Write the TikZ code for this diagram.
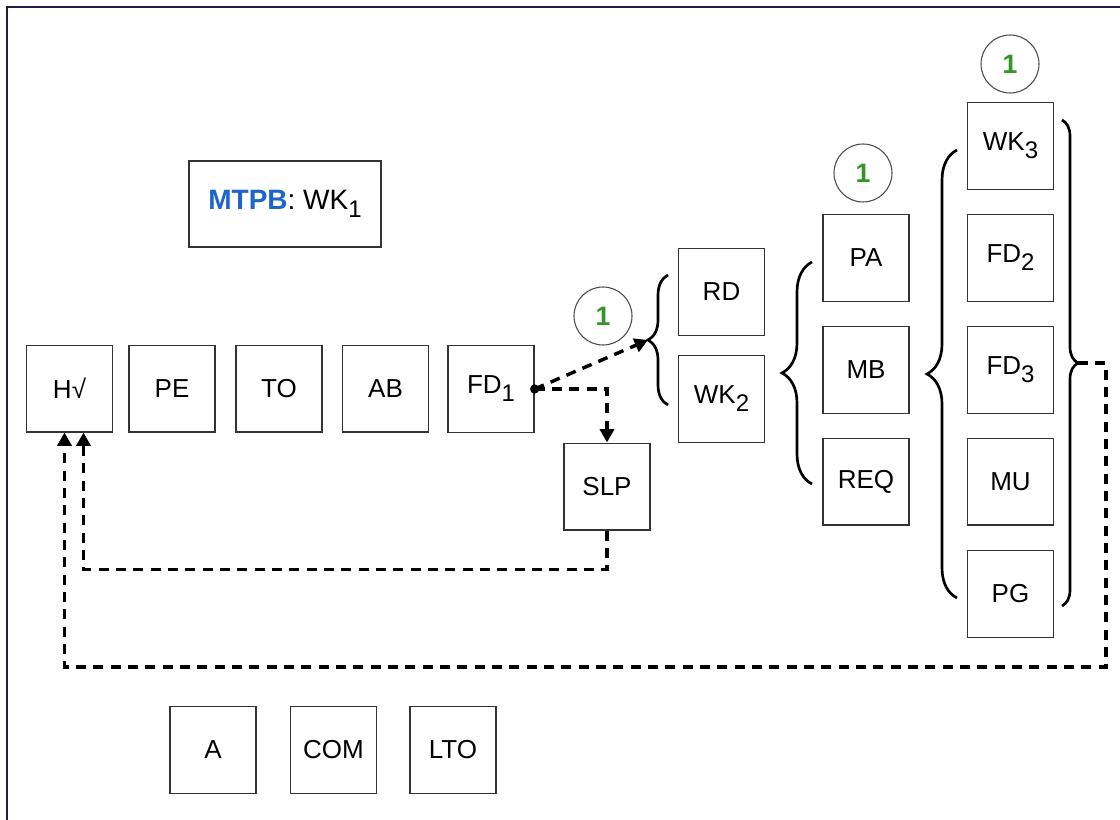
\documentclass[tikz,border=0pt]{standalone}
\usepackage{fontspec}
\setmainfont{Liberation Sans}
\usetikzlibrary{arrows.meta,decorations.pathreplacing,calc}
\definecolor{mtpbblue}{RGB}{30,100,205}
\definecolor{onegreen}{RGB}{50,150,40}
\definecolor{framecol}{RGB}{30,30,70}
\newcommand{\sbs}[1]{\raisebox{-6pt}{\fontsize{18}{18}\selectfont #1}}
\begin{document}
\begin{tikzpicture}[x=0.75pt,y=-0.75pt,
  box/.style={draw=black!80,line width=1pt,minimum width=64.5pt,minimum height=65pt,inner sep=0pt,font=\fontsize{19.5}{21}\selectfont},
  num/.style={circle,draw=black!70,line width=0.8pt,minimum size=43.5pt,inner sep=0pt,text=onegreen,font=\bfseries\fontsize{20}{20}\selectfont},
  dashline/.style={line width=2.6pt,dash pattern=on 7.5pt off 5.5pt},
  arr/.style={-{Triangle[width=10.5pt,length=10pt]}},
  bracey/.style={decorate,line width=2pt}]
\useasboundingbox (0,0) rectangle (1120,820);
\fill[white] (0,0) rectangle (1120,820);
\draw[framecol,line width=1.6pt] (7,820) -- (7,7) -- (1120,7);

\node[draw=black!80,line width=1pt,minimum width=144pt,minimum height=64.5pt,inner sep=0pt,font=\fontsize{21}{23}\selectfont] (MTPB) at (285,204) {\textcolor{mtpbblue}{\bfseries MTPB}: WK\sbs{1}};

\node[box] (H) at (69.5,388.5) {H√};
\node[box] (PE) at (172,388.5) {PE};
\node[box] (TO) at (279,388.5) {TO};
\node[box] (AB) at (385.5,388.5) {AB};
\node[box] (FD1) at (491,389) {FD\sbs{1}};
\node[box] (SLP) at (607,486.5) {SLP};
\node[box] (RD) at (721.5,292) {RD};
\node[box] (WK2) at (721.5,399) {WK\sbs{2}};
\node[box] (PA) at (866,258) {PA};
\node[box] (MB) at (866,370) {MB};
\node[box] (REQ) at (866,481.5) {REQ};
\node[box] (WK3) at (1010.5,146) {WK\sbs{3}};
\node[box] (FD2) at (1010.5,258) {FD\sbs{2}};
\node[box] (FD3) at (1010.5,370) {FD\sbs{3}};
\node[box] (MU) at (1010.5,481.5) {MU};
\node[box] (PG) at (1010.5,594) {PG};
\node[box] (A) at (213,750) {A};
\node[box] (COM) at (333.5,750) {COM};
\node[box] (LTO) at (453,750) {LTO};

\node[num] (c1) at (603,316) {1};
\node[num] (c2) at (863,173) {1};
\node[num] (c3) at (1010,64) {1};

\draw[bracey,decoration={brace,amplitude=15pt}] (668,405) -- (668,275);
\draw[bracey,decoration={brace,amplitude=22.5pt}] (812,484) -- (812,262);
\draw[bracey,decoration={brace,amplitude=22.5pt}] (957,598) -- (957,150);
\draw[bracey,decoration={brace,amplitude=12pt}] (1062,120) -- (1062,606);
\coordinate (b1tip) at (648,340);
\coordinate (b4tip) at (1078,363);
\coordinate (rc1) at (1106,363);
\coordinate (rc2) at (1106,667);

\draw[dashline,arr] (FD1.east) -- (b1tip);
\draw[dashline,arr] (FD1.east) -| (SLP.north);
\fill (FD1.east) circle (3.5pt);
\draw[dashline,arr] (SLP.south) -- ++(0,39) -| ($(H.south)+(14,0)$);
\draw[dashline,arr] (b4tip) -- (rc1) -- (rc2) -| ($(H.south)+(-5,0)$);
\end{tikzpicture}
\end{document}
